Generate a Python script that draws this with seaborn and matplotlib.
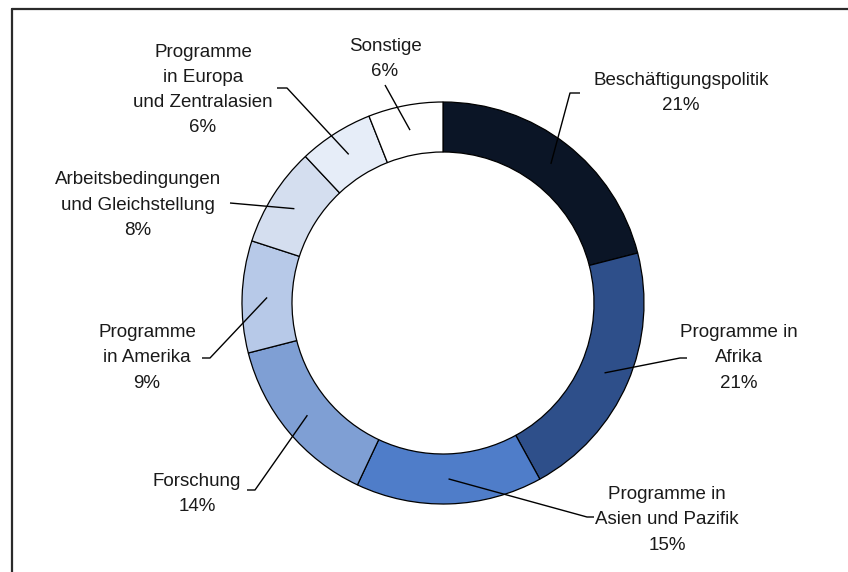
import numpy as np
import matplotlib
matplotlib.use("Agg")
import matplotlib.pyplot as plt
import seaborn as sns

# Data
categories = [
    "Beschäftigungspolitik",
    "Programme in\nAfrika",
    "Programme in\nAsien und Pazifik",
    "Forschung",
    "Programme\nin Amerika",
    "Arbeitsbedingungen\nund Gleichstellung",
    "Programme\nin Europa\nund Zentralasien",
    "Sonstige",
]
shares = [21, 21, 15, 14, 9, 8, 6, 6]
colors = ["#0b1526", "#2e4f8a", "#4f7dc9", "#7f9fd4",
          "#b7c9e8", "#d4deef", "#e6edf8", "#ffffff"]

# Label layout (pixel coords, y from top): text centre, elbow, line end
text_pos = [(681, 93), (739, 358), (667, 520), (197, 494),
            (147, 358), (138, 205), (203, 90), (385, 59)]
elbows = [(570, 93), (680, 358), (587, 517), (255, 490),
          (210, 358), (230, 203), (287, 88), (385, 85)]
ends = [(580, 93), (687, 358), (594, 517), (247, 490),
        (202, 358), (230, 203), (277, 88), (385, 85)]

W, H = 848, 572
cx, cy = 443, 303
r_out, ring = 201, 50

sns.set_theme(style="white")
plt.rcParams['font.family'] = ['Liberation Sans', 'DejaVu Sans']

fig = plt.figure(figsize=(W / 100, H / 100), dpi=100)
ax = fig.add_axes([0, 0, 1, 1])

ax.pie(
    shares,
    colors=colors,
    startangle=90,
    counterclock=False,
    radius=r_out,
    center=(cx, H - cy),
    wedgeprops=dict(width=ring, edgecolor="black", linewidth=0.9),
)

# Leader lines and labels
cum = np.cumsum([0] + shares[:-1])
r_mid = r_out - ring / 2
for i, (cat, s) in enumerate(zip(categories, shares)):
    ang = np.deg2rad(90 - 360 * (cum[i] + s / 2) / 100)
    ax_, ay_ = cx + r_mid * np.cos(ang), (H - cy) + r_mid * np.sin(ang)
    xs = [ax_, elbows[i][0], ends[i][0]]
    ys = [ay_, H - elbows[i][1], H - ends[i][1]]
    ax.plot(xs, ys, color="black", lw=1.0, solid_capstyle="butt")
    tx, ty = text_pos[i]
    ax.text(tx, H - ty, f"{cat}\n{s}%", ha="center", va="center",
            fontsize=13.5, color="#1a1a1a", linespacing=1.62)

# Frame (only top and left visible)
ax.plot([12, 12], [0, H - 9], color="#2b2b2b", lw=1.6)
ax.plot([12, W], [H - 9, H - 9], color="#2b2b2b", lw=1.6)

ax.set_xlim(0, W)
ax.set_ylim(0, H)
ax.set_aspect("equal")
ax.axis("off")

fig.savefig("out.png", dpi=100, facecolor="white")
